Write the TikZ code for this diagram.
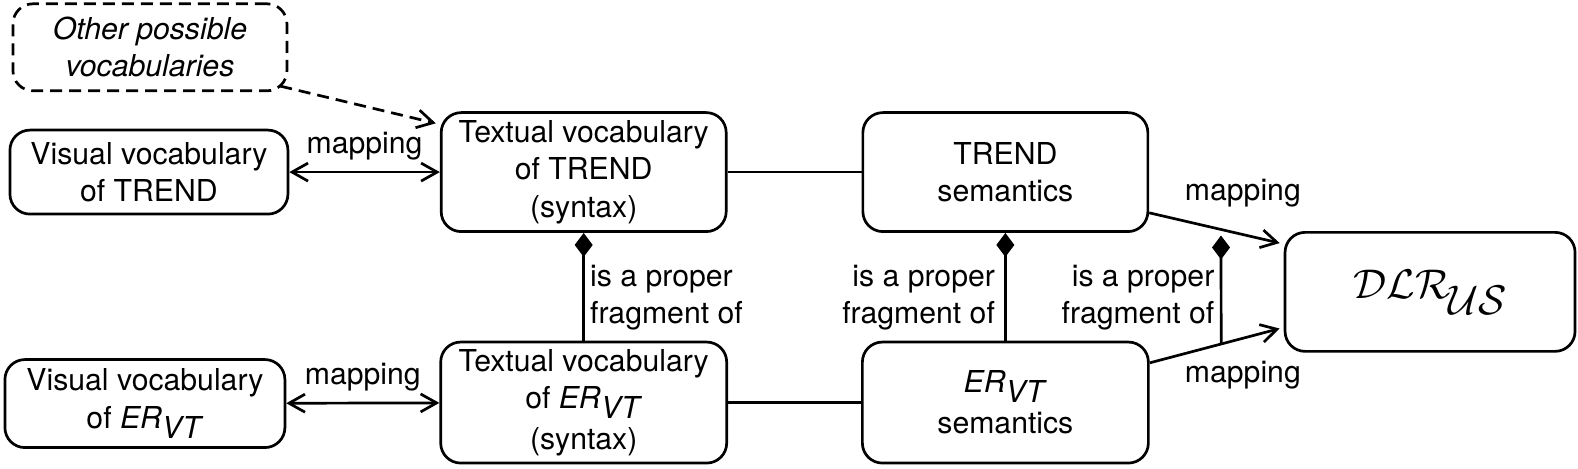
\documentclass[tikz,border=0pt]{standalone}
\usepackage{fontspec}
\setmainfont{TeX Gyre Heros}
\usetikzlibrary{arrows.meta,calc}
\newcommand{\ervt}{\textit{ER}\raisebox{-5pt}{\textit{VT}}}
\begin{document}
\begin{tikzpicture}[x=0.5032pt,y=-0.5032pt,
  every node/.style={font=\fontsize{15.1}{18.6}\selectfont},
  box/.style={draw,line width=1.35pt,rounded corners=10pt,align=center,inner sep=0pt},
  conn/.style={line width=1.35pt},
  tip/.style={line width=1.35pt,arrows={-Straight Barb[length=8pt,width=9pt]}},
  dtip/.style={line width=1.35pt,arrows={Straight Barb[length=8pt,width=9pt]-Straight Barb[length=8pt,width=9pt]}},
  comp/.style={line width=1.35pt,arrows={Diamond[length=12pt,width=9pt]-}},
  longdash/.style={dash pattern=on 6pt off 3.5pt},
  lbl/.style={align=left,inner sep=0pt}]
\useasboundingbox (0,0) rectangle (1568,466);
\node[box,longdash,minimum width=137pt,minimum height=43.5pt] (other) at (149,47) {\textit{Other possible}\\\textit{vocabularies}};
\node[box,minimum width=139pt,minimum height=42pt] (vtrend) at (148,171) {Visual vocabulary\\of TREND};
\node[box,minimum width=142.5pt,minimum height=59.5pt] (ttrend) at (580,171) {Textual vocabulary\\of TREND\\(syntax)};
\node[box,minimum width=142.5pt,minimum height=59.5pt] (strend) at (999,171) {TREND\\semantics};
\node[box,minimum width=145pt,minimum height=59.5pt] (dlr) at (1421,290) {\fontsize{21}{26}\selectfont$\mathcal{DLR}$\kern-1pt\raisebox{-8pt}{$\mathcal{US}$}};
\node[box,minimum width=140pt,minimum height=44pt] (vervt) at (144,401) {Visual vocabulary\\of \ervt};
\node[box,minimum width=143pt,minimum height=60.5pt] (tervt) at (580,400) {Textual vocabulary\\of \ervt\\[2pt](syntax)};
\node[box,minimum width=143pt,minimum height=60.5pt] (servt) at (999,400) {\ervt\\[2pt]semantics};
% mappings on the left
\draw[dtip] (vtrend) -- (ttrend) node[midway,above=2pt] (m1) {mapping};
\draw[dtip] (vervt) -- (tervt) node[midway,above=2pt] (m2) {mapping};
% plain lines
\draw[conn] (ttrend) -- (strend);
\draw[conn] (tervt) -- (servt);
% dashed arrow
\draw[tip,longdash] ($(other.south east)+(-8,-6)$) coordinate (os) -- ($(ttrend.north west)+(-4,12)$) coordinate (oe);
% compositions
\draw[comp] (ttrend.south) -- (tervt.north);
\draw[comp] (strend.south) -- (servt.north);
\node[lbl,anchor=west] (f1) at (586,296) {is a proper\\fragment of};
\node[lbl,anchor=east,align=right] (f2) at (989,296) {is a proper\\fragment of};
\node[lbl,anchor=east,align=right] (f3) at (1207,296) {is a proper\\fragment of};
% mappings to DLR
\coordinate (a1) at ($(strend.south east)+(0,-20)$);
\coordinate (b1) at ($(dlr.north west)+(-4,12)$);
\coordinate (a2) at ($(servt.north east)+(0,22)$);
\coordinate (b2) at ($(dlr.south west)+(-4,-24)$);
\draw[tip] (a1) -- (b1) coordinate[pos=0.55] (p1);
\draw[tip] (a2) -- (b2) coordinate[pos=0.55] (p2);
\draw[comp] ($(p1)+(0,6)$) coordinate (p1b) -- (p2);
\node (m3) at (1235,192) {mapping};
\node (m4) at (1235,373) {mapping};
\end{tikzpicture}
\end{document}
